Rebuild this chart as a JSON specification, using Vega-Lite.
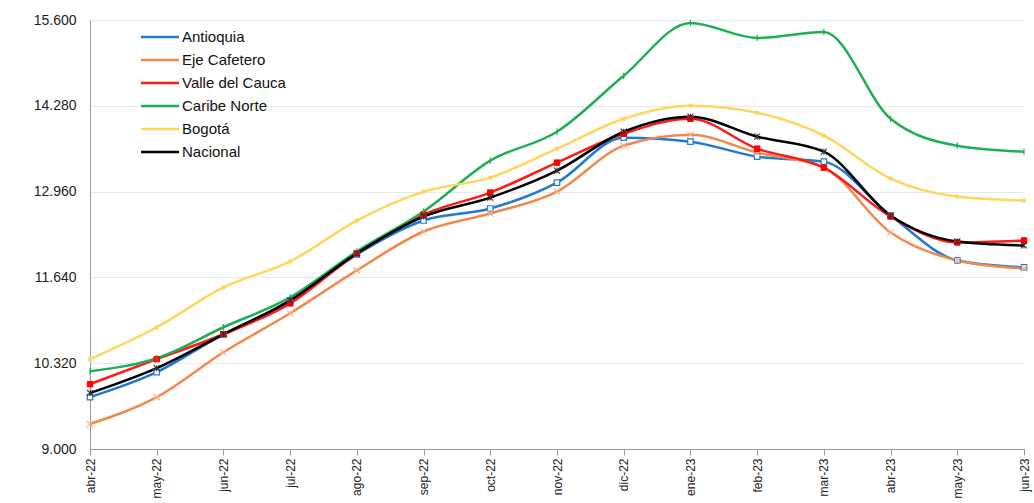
{
  "$schema": "https://vega.github.io/schema/vega-lite/v6.json",
  "autosize": "none",
  "width": 934,
  "height": 429,
  "padding": {"left": 90, "top": 20, "right": 10, "bottom": 54},
  "background": "white",
  "config": {
    "locale": {"number": {"decimal": ",", "thousands": ".", "grouping": [3], "currency": ["$", ""]}},
    "view": {"stroke": null},
    "font": "Liberation Sans"
  },
  "data": {"values": [
    {"mes": "abr-22", "serie": "Antioquia", "v": 9798},
    {"mes": "may-22", "serie": "Antioquia", "v": 10182},
    {"mes": "jun-22", "serie": "Antioquia", "v": 10765},
    {"mes": "jul-22", "serie": "Antioquia", "v": 11256},
    {"mes": "ago-22", "serie": "Antioquia", "v": 11993},
    {"mes": "sep-22", "serie": "Antioquia", "v": 12515},
    {"mes": "oct-22", "serie": "Antioquia", "v": 12700},
    {"mes": "nov-22", "serie": "Antioquia", "v": 13098},
    {"mes": "dic-22", "serie": "Antioquia", "v": 13789},
    {"mes": "ene-23", "serie": "Antioquia", "v": 13728},
    {"mes": "feb-23", "serie": "Antioquia", "v": 13498},
    {"mes": "mar-23", "serie": "Antioquia", "v": 13421},
    {"mes": "abr-23", "serie": "Antioquia", "v": 12592},
    {"mes": "may-23", "serie": "Antioquia", "v": 11901},
    {"mes": "jun-23", "serie": "Antioquia", "v": 11794},
    {"mes": "abr-22", "serie": "Eje Cafetero", "v": 9384},
    {"mes": "may-22", "serie": "Eje Cafetero", "v": 9798},
    {"mes": "jun-22", "serie": "Eje Cafetero", "v": 10489},
    {"mes": "jul-22", "serie": "Eje Cafetero", "v": 11088},
    {"mes": "ago-22", "serie": "Eje Cafetero", "v": 11748},
    {"mes": "sep-22", "serie": "Eje Cafetero", "v": 12346},
    {"mes": "oct-22", "serie": "Eje Cafetero", "v": 12623},
    {"mes": "nov-22", "serie": "Eje Cafetero", "v": 12960},
    {"mes": "dic-22", "serie": "Eje Cafetero", "v": 13666},
    {"mes": "ene-23", "serie": "Eje Cafetero", "v": 13835},
    {"mes": "feb-23", "serie": "Eje Cafetero", "v": 13560},
    {"mes": "mar-23", "serie": "Eje Cafetero", "v": 13330},
    {"mes": "abr-23", "serie": "Eje Cafetero", "v": 12331},
    {"mes": "may-23", "serie": "Eje Cafetero", "v": 11901},
    {"mes": "jun-23", "serie": "Eje Cafetero", "v": 11778},
    {"mes": "abr-22", "serie": "Valle del Cauca", "v": 9998},
    {"mes": "may-22", "serie": "Valle del Cauca", "v": 10382},
    {"mes": "jun-22", "serie": "Valle del Cauca", "v": 10765},
    {"mes": "jul-22", "serie": "Valle del Cauca", "v": 11240},
    {"mes": "ago-22", "serie": "Valle del Cauca", "v": 12009},
    {"mes": "sep-22", "serie": "Valle del Cauca", "v": 12607},
    {"mes": "oct-22", "serie": "Valle del Cauca", "v": 12945},
    {"mes": "nov-22", "serie": "Valle del Cauca", "v": 13405},
    {"mes": "dic-22", "serie": "Valle del Cauca", "v": 13850},
    {"mes": "ene-23", "serie": "Valle del Cauca", "v": 14081},
    {"mes": "feb-23", "serie": "Valle del Cauca", "v": 13620},
    {"mes": "mar-23", "serie": "Valle del Cauca", "v": 13329},
    {"mes": "abr-23", "serie": "Valle del Cauca", "v": 12577},
    {"mes": "may-23", "serie": "Valle del Cauca", "v": 12178},
    {"mes": "jun-23", "serie": "Valle del Cauca", "v": 12208},
    {"mes": "abr-22", "serie": "Caribe Norte", "v": 10197},
    {"mes": "may-22", "serie": "Caribe Norte", "v": 10397},
    {"mes": "jun-22", "serie": "Caribe Norte", "v": 10873},
    {"mes": "jul-22", "serie": "Caribe Norte", "v": 11333},
    {"mes": "ago-22", "serie": "Caribe Norte", "v": 12039},
    {"mes": "sep-22", "serie": "Caribe Norte", "v": 12653},
    {"mes": "oct-22", "serie": "Caribe Norte", "v": 13436},
    {"mes": "nov-22", "serie": "Caribe Norte", "v": 13881},
    {"mes": "dic-22", "serie": "Caribe Norte", "v": 14741},
    {"mes": "ene-23", "serie": "Caribe Norte", "v": 15555},
    {"mes": "feb-23", "serie": "Caribe Norte", "v": 15324},
    {"mes": "mar-23", "serie": "Caribe Norte", "v": 15416},
    {"mes": "abr-23", "serie": "Caribe Norte", "v": 14081},
    {"mes": "may-23", "serie": "Caribe Norte", "v": 13666},
    {"mes": "jun-23", "serie": "Caribe Norte", "v": 13574},
    {"mes": "abr-22", "serie": "Bogotá", "v": 10382},
    {"mes": "may-22", "serie": "Bogotá", "v": 10873},
    {"mes": "jun-22", "serie": "Bogotá", "v": 11487},
    {"mes": "jul-22", "serie": "Bogotá", "v": 11886},
    {"mes": "ago-22", "serie": "Bogotá", "v": 12515},
    {"mes": "sep-22", "serie": "Bogotá", "v": 12960},
    {"mes": "oct-22", "serie": "Bogotá", "v": 13175},
    {"mes": "nov-22", "serie": "Bogotá", "v": 13620},
    {"mes": "dic-22", "serie": "Bogotá", "v": 14081},
    {"mes": "ene-23", "serie": "Bogotá", "v": 14280},
    {"mes": "feb-23", "serie": "Bogotá", "v": 14173},
    {"mes": "mar-23", "serie": "Bogotá", "v": 13820},
    {"mes": "abr-23", "serie": "Bogotá", "v": 13160},
    {"mes": "may-23", "serie": "Bogotá", "v": 12884},
    {"mes": "jun-23", "serie": "Bogotá", "v": 12822},
    {"mes": "abr-22", "serie": "Nacional", "v": 9860},
    {"mes": "may-22", "serie": "Nacional", "v": 10243},
    {"mes": "jun-22", "serie": "Nacional", "v": 10765},
    {"mes": "jul-22", "serie": "Nacional", "v": 11287},
    {"mes": "ago-22", "serie": "Nacional", "v": 12009},
    {"mes": "sep-22", "serie": "Nacional", "v": 12577},
    {"mes": "oct-22", "serie": "Nacional", "v": 12868},
    {"mes": "nov-22", "serie": "Nacional", "v": 13283},
    {"mes": "dic-22", "serie": "Nacional", "v": 13881},
    {"mes": "ene-23", "serie": "Nacional", "v": 14112},
    {"mes": "feb-23", "serie": "Nacional", "v": 13805},
    {"mes": "mar-23", "serie": "Nacional", "v": 13574},
    {"mes": "abr-23", "serie": "Nacional", "v": 12592},
    {"mes": "may-23", "serie": "Nacional", "v": 12193},
    {"mes": "jun-23", "serie": "Nacional", "v": 12131}
  ]},
  "encoding": {
    "x": {
      "field": "mes", "type": "ordinal", "sort": null,
      "scale": {"type": "point", "padding": 0},
      "axis": {
        "title": null, "labelAngle": -90, "labelFontSize": 12, "labelColor": "#222",
        "domainColor": "#999", "tickColor": "#999", "tickSize": 6, "grid": false,
        "labelPadding": 3
      }
    },
    "y": {
      "field": "v", "type": "quantitative",
      "scale": {"domain": [9000, 15600], "nice": false, "zero": false},
      "axis": {
        "title": null, "values": [9000, 10320, 11640, 12960, 14280, 15600], "format": ",.0f",
        "labelFontSize": 14, "labelColor": "#222", "domainColor": "#999", "ticks": false,
        "labelPadding": 14, "gridColor": "#e8e8e8", "gridWidth": 1
      }
    }
  },
  "layer": [
    {
      "mark": {"type": "line", "interpolate": "monotone", "strokeWidth": 2.5},
      "encoding": {
        "color": {
          "field": "serie", "type": "nominal",
          "scale": {
            "domain": ["Antioquia", "Eje Cafetero", "Valle del Cauca", "Caribe Norte", "Bogotá", "Nacional"],
            "range": ["#2279cf", "#ef8a4c", "#ff1a1a", "#1fae55", "#ffd65e", "#000000"]
          },
          "legend": {
            "title": null, "orient": "none", "legendX": 59, "legendY": 6,
            "symbolType": "M-2,0H2", "symbolSize": 361, "symbolStrokeWidth": 2.5,
            "labelFontSize": 15, "labelColor": "#111", "rowPadding": 4, "labelOffset": 11
          }
        },
        "strokeWidth": {
          "condition": {"test": "datum.serie === 'Nacional'", "value": 3},
          "value": 2.5
        }
      }
    },
    {
      "transform": [{"filter": "datum.serie === 'Antioquia'"}],
      "mark": {"type": "point", "shape": "square", "size": 30, "strokeWidth": 1.2, "stroke": "#2279cf", "fill": "#ffffff", "fillOpacity": 1, "opacity": 1},
      "encoding": {}
    },
    {
      "transform": [{"filter": "datum.serie === 'Eje Cafetero'"}],
      "mark": {"type": "point", "shape": "M-1,-1L1,1M-1,1L1,-1", "size": 40, "strokeWidth": 1.2, "stroke": "#f7b08a", "fill": "transparent", "opacity": 1},
      "encoding": {}
    },
    {
      "transform": [{"filter": "datum.serie === 'Valle del Cauca'"}],
      "mark": {"type": "point", "shape": "square", "size": 30, "strokeWidth": 1, "stroke": "#ff0000", "fill": "#ff0000", "fillOpacity": 1, "opacity": 1},
      "encoding": {}
    },
    {
      "transform": [{"filter": "datum.serie === 'Caribe Norte'"}],
      "mark": {"type": "point", "shape": "M0,-1V1", "size": 40, "strokeWidth": 1.2, "stroke": "#1fae55", "fill": "transparent", "opacity": 1},
      "encoding": {}
    },
    {
      "transform": [{"filter": "datum.serie === 'Bogotá'"}],
      "mark": {"type": "point", "shape": "circle", "size": 14, "strokeWidth": 1, "stroke": "#ffd65e", "fill": "#ffd65e", "fillOpacity": 1, "opacity": 1},
      "encoding": {}
    },
    {
      "transform": [{"filter": "datum.serie === 'Nacional'"}],
      "mark": {"type": "point", "shape": "M-1,-1L1,1M-1,1L1,-1M0,-1V1", "size": 36, "strokeWidth": 1.1, "stroke": "#333333", "fill": "transparent", "opacity": 1},
      "encoding": {}
    }
  ]
}
